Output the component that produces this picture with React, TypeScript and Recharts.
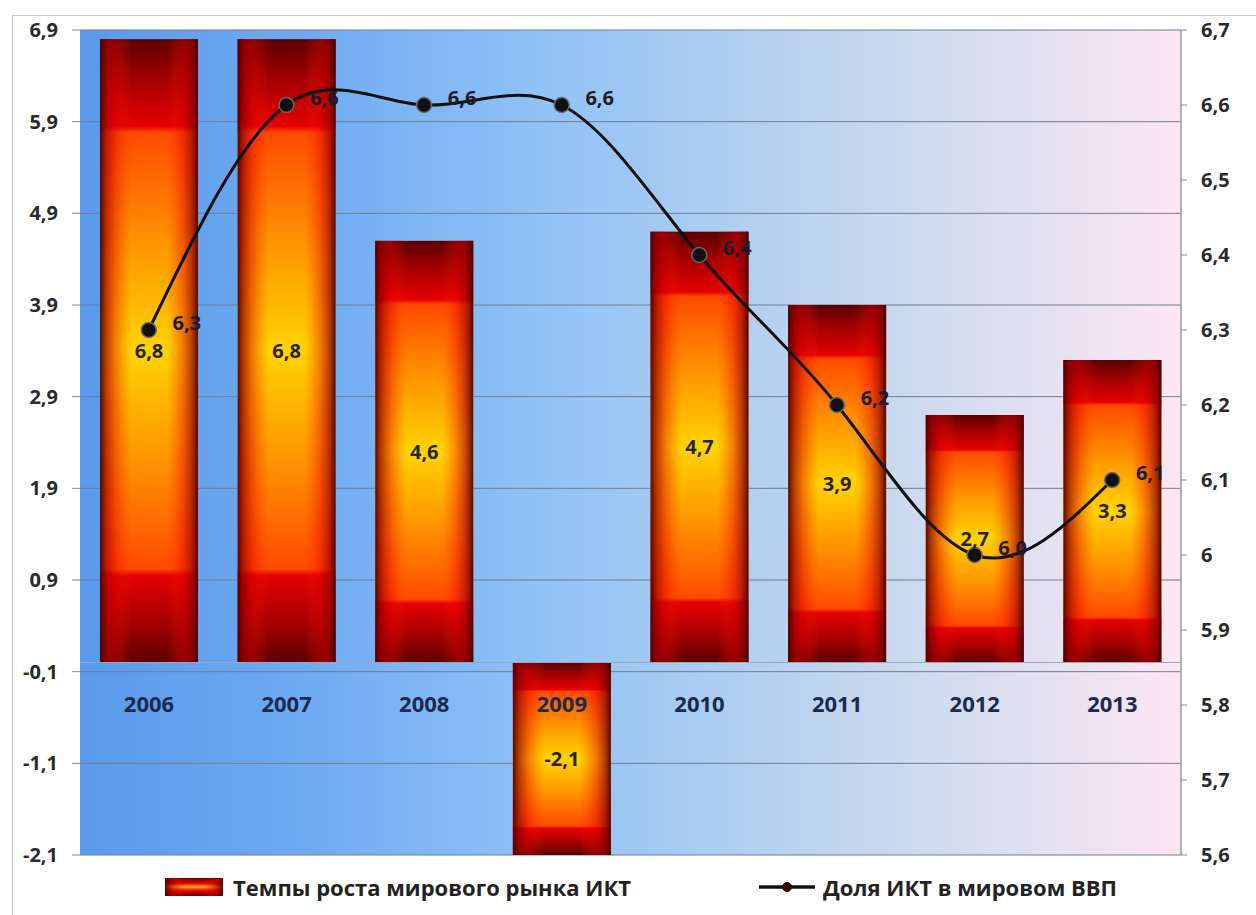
import React from 'react';
import {
  ComposedChart,
  Bar,
  Line,
  XAxis,
  YAxis,
  CartesianGrid,
  LabelList,
  Legend,
  ReferenceLine,
} from 'recharts';

const years = ['2006', '2007', '2008', '2009', '2010', '2011', '2012', '2013'];
const marketGrowth = [6.8, 6.8, 4.6, -2.1, 4.7, 3.9, 2.7, 3.3];
const ictShare = [6.3, 6.6, 6.6, 6.6, 6.4, 6.2, 6.0, 6.1];
const leftTicks = [-2.1, -1.1, -0.1, 0.9, 1.9, 2.9, 3.9, 4.9, 5.9, 6.9];
const rightTicks = [5.6, 5.7, 5.8, 5.9, 6.0, 6.1, 6.2, 6.3, 6.4, 6.5, 6.6, 6.7];
const growthName = 'Темпы роста мирового рынка ИКТ';
const shareName = 'Доля ИКТ в мировом ВВП';

const data = years.map((year, i) => ({
  year,
  growth: marketGrowth[i],
  share: ictShare[i],
}));

const FONT = '"Open Sans", "DejaVu Sans", sans-serif';

const fmt = (v: any) => {
  const n = Number(v);
  return n.toFixed(1).replace('.', ',');
};
const fmtRight = (v: any) => {
  const n = Number(v);
  if (Math.abs(n - 6) < 1e-9) return '6';
  return n.toFixed(1).replace('.', ',');
};

const BarShape = (props: any) => {
  const { x, y, width, height } = props;
  const top = Math.min(y, y + height);
  const h = Math.abs(height);
  return (
    <g>
      <rect x={x} y={top} width={width} height={h} fill="url(#barV)" />
      <rect x={x} y={top} width={width} height={h} fill="url(#barH)" />
    </g>
  );
};

const YearLabel = (props: any) => {
  const vb = props.viewBox || props;
  const x = vb.x ?? props.x;
  const y = vb.y ?? props.y;
  const w = vb.width ?? props.width;
  const h = vb.height ?? props.height;
  const idx = props.index;
  const val = data[idx] ? data[idx].growth : 0;
  let zero: number;
  if (h < 0) zero = y + h;
  else zero = val >= 0 ? y + h : y;
  return (
    <text
      x={x + w / 2}
      y={zero + 40}
      textAnchor="middle"
      dominantBaseline="central"
      fill="#1b2a4e"
      fontFamily={FONT}
      fontWeight="bold"
      fontSize={22}
    >
      {props.value}
    </text>
  );
};

const ShareLabel = (props: any) => {
  const x = props.x ?? props.viewBox?.x;
  const y = props.y ?? props.viewBox?.y;
  return (
    <text
      x={x + 38}
      y={y - 8}
      textAnchor="middle"
      dominantBaseline="central"
      fill="#1c1c28"
      fontFamily={FONT}
      fontWeight="bold"
      fontSize={20}
    >
      {fmt(props.value)}
    </text>
  );
};

const LegendContent = (props: any) => {
  const payload = [...(props.payload || [])].sort(
    (a: any, b: any) => (a.type === 'line' ? 1 : 0) - (b.type === 'line' ? 1 : 0)
  );
  return (
    <div
      style={{
        height: 30,
        display: 'flex',
        alignItems: 'center',
        justifyContent: 'center',
        paddingLeft: 26,
        fontFamily: FONT,
        fontWeight: 'bold',
        fontSize: 22,
        color: '#222',
      }}
    >
      {payload.map((entry: any, i: number) => (
        <div
          key={i}
          style={{ display: 'flex', alignItems: 'center', marginRight: i === 0 ? 128 : 0 }}
        >
          {entry.type === 'line' ? (
            <svg width={56} height={18} style={{ marginRight: 8 }}>
              <line x1={0} y1={9} x2={56} y2={9} stroke="#111" strokeWidth={3.5} />
              <circle cx={28} cy={9} r={4.5} fill="#3a0a0a" stroke="#111" />
            </svg>
          ) : (
            <svg width={58} height={18} style={{ marginRight: 10 }}>
              <rect x={0} y={0} width={58} height={18} fill="url(#legV)" />
              <rect x={0} y={0} width={58} height={18} fill="url(#legH)" />
            </svg>
          )}
          <span>{entry.value}</span>
        </div>
      ))}
    </div>
  );
};

export default function App() {
  return (
    <div style={{ position: 'relative', width: 1256, height: 915, background: '#fff', overflow: 'hidden' }}>
      <style>{`body{margin:0;}`}</style>
      <div
        style={{
          position: 'absolute',
          left: 12,
          top: 15,
          right: 0,
          bottom: 0,
          borderLeft: '1.5px solid #c4c4c4',
          borderTop: '1.5px solid #c4c4c4',
        }}
      />
      <svg width={0} height={0} style={{ position: 'absolute' }}>
        <defs>
          <linearGradient id="legV" x1="0" y1="0" x2="0" y2="1">
            <stop offset="0" stopColor="#6a0000" />
            <stop offset="0.3" stopColor="#e00000" />
            <stop offset="0.5" stopColor="#ffb000" />
            <stop offset="0.7" stopColor="#e00000" />
            <stop offset="1" stopColor="#6a0000" />
          </linearGradient>
          <linearGradient id="legH" x1="0" y1="0" x2="1" y2="0">
            <stop offset="0" stopColor="#4a0000" stopOpacity={0.95} />
            <stop offset="0.15" stopColor="#c00000" stopOpacity={0.5} />
            <stop offset="0.35" stopColor="#ff3000" stopOpacity={0} />
            <stop offset="0.65" stopColor="#ff3000" stopOpacity={0} />
            <stop offset="0.85" stopColor="#c00000" stopOpacity={0.5} />
            <stop offset="1" stopColor="#4a0000" stopOpacity={0.95} />
          </linearGradient>
        </defs>
      </svg>
      <div style={{ position: 'absolute', left: 0, top: 0 }}>
        <ComposedChart
          width={1256}
          height={915}
          data={data}
          margin={{ top: 30, right: 0, bottom: 30, left: 0 }}
        >
          <defs>
            <linearGradient id="bgGrad" x1="0" y1="0" x2="1" y2="0">
              <stop offset="0" stopColor="#5a9aea" />
              <stop offset="0.2" stopColor="#6eaaf2" />
              <stop offset="0.44" stopColor="#94c4f6" />
              <stop offset="0.56" stopColor="#a9ccf2" />
              <stop offset="0.7" stopColor="#c3d6ee" />
              <stop offset="0.84" stopColor="#dcdff0" />
              <stop offset="1" stopColor="#fde6f2" />
            </linearGradient>
            <linearGradient id="barV" x1="0" y1="0" x2="0" y2="1">
              <stop offset="0" stopColor="#5a0000" />
              <stop offset="0.06" stopColor="#a00000" />
              <stop offset="0.14" stopColor="#e60000" />
              <stop offset="0.15" stopColor="#ff4a00" />
              <stop offset="0.32" stopColor="#ff9200" />
              <stop offset="0.5" stopColor="#ffd400" />
              <stop offset="0.68" stopColor="#ff9200" />
              <stop offset="0.85" stopColor="#ff4a00" />
              <stop offset="0.86" stopColor="#e60000" />
              <stop offset="0.94" stopColor="#a00000" />
              <stop offset="1" stopColor="#5a0000" />
            </linearGradient>
            <linearGradient id="barH" x1="0" y1="0" x2="1" y2="0">
              <stop offset="0" stopColor="#4a0000" stopOpacity={0.95} />
              <stop offset="0.06" stopColor="#900000" stopOpacity={0.7} />
              <stop offset="0.16" stopColor="#e00000" stopOpacity={0.4} />
              <stop offset="0.32" stopColor="#ff3000" stopOpacity={0} />
              <stop offset="0.68" stopColor="#ff3000" stopOpacity={0} />
              <stop offset="0.84" stopColor="#e00000" stopOpacity={0.4} />
              <stop offset="0.94" stopColor="#900000" stopOpacity={0.7} />
              <stop offset="1" stopColor="#4a0000" stopOpacity={0.95} />
            </linearGradient>
          </defs>
          <CartesianGrid
            yAxisId="left"
            vertical={false}
            fill="url(#bgGrad)"
            fillOpacity={1}
            stroke="#6f7d92"
            strokeWidth={1}
          />
          <XAxis dataKey="year" hide />
          <YAxis
            yAxisId="left"
            domain={[-2.1, 6.9]}
            ticks={leftTicks}
            interval={0}
            width={80}
            axisLine={false}
            tickLine={{ stroke: '#8a8a8a' }}
            tickSize={8}
            tickMargin={14}
            tickFormatter={fmt}
            tick={{ fill: '#2a2a2a', fontFamily: FONT, fontWeight: 'bold', fontSize: 20 }}
          />
          <YAxis
            yAxisId="right"
            orientation="right"
            domain={[5.6, 6.7]}
            ticks={rightTicks}
            interval={0}
            width={75}
            axisLine={{ stroke: '#9a9a9a', strokeWidth: 1.5 }}
            tickLine={{ stroke: '#8a8a8a' }}
            tickSize={6}
            tickMargin={14}
            tickFormatter={fmtRight}
            tick={{ fill: '#2a2a2a', fontFamily: FONT, fontWeight: 'bold', fontSize: 20 }}
          />
          <ReferenceLine yAxisId="left" y={0} stroke="#9aa8bc" strokeWidth={1} />
          <Bar
            yAxisId="left"
            dataKey="growth"
            name={growthName}
            barSize={98}
            fill="#e00000"
            shape={<BarShape />}
            isAnimationActive={false}
          >
            <LabelList
              dataKey="growth"
              position="center"
              formatter={fmt}
              fill="#262626"
              fontFamily={FONT}
              fontWeight="bold"
              fontSize={20}
            />
            <LabelList dataKey="year" content={<YearLabel />} />
          </Bar>
          <Line
            yAxisId="right"
            dataKey="share"
            name={shareName}
            type="natural"
            stroke="#111"
            strokeWidth={3}
            dot={{ r: 7.5, fill: '#111', stroke: '#6a6a6a', strokeWidth: 1.5 }}
            activeDot={false}
            isAnimationActive={false}
          >
            <LabelList dataKey="share" content={<ShareLabel />} />
          </Line>
          <Legend
            content={<LegendContent />}
            verticalAlign="bottom"
            wrapperStyle={{ top: 872, left: 0, width: 1256, bottom: 'auto' }}
          />
        </ComposedChart>
      </div>
    </div>
  );
}
